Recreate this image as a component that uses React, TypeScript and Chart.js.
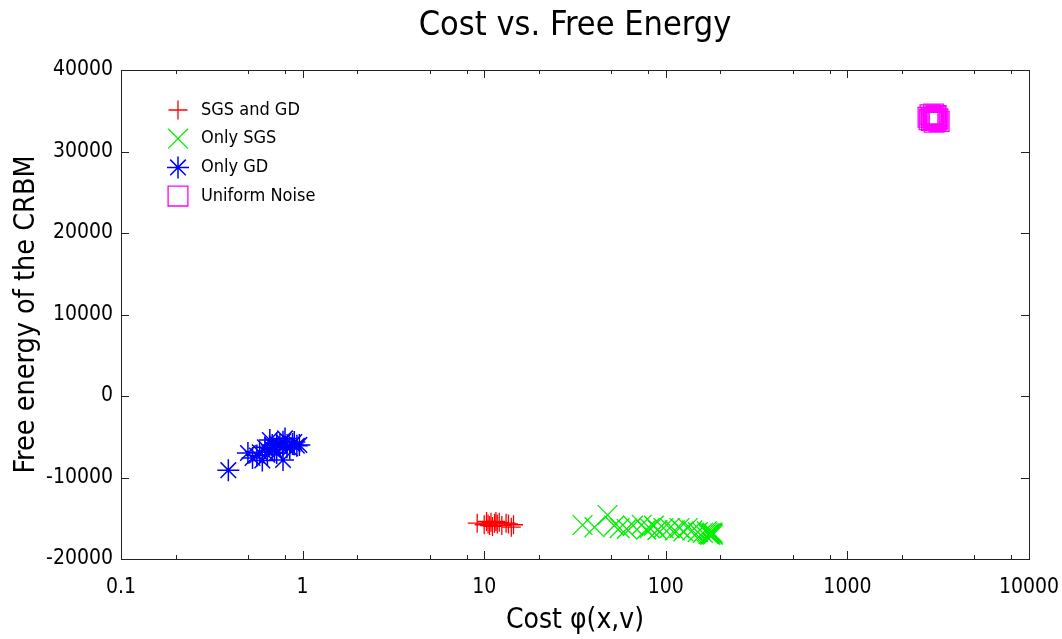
import React, { useEffect, useRef } from 'react';
import { Chart, registerables } from 'chart.js';
import { drawPoint } from 'chart.js/helpers';

Chart.register(...registerables);

const FONT = "'DejaVu Sans Condensed', 'DejaVu Sans', sans-serif";

// ---- texts ----
const chartTitle = 'Cost vs. Free Energy';
const xAxisTitle = 'Cost φ(x,v)';
const yAxisTitle = 'Free energy of the CRBM';

// ---- axis ticks ----
const xMajorTicks = [0.1, 1, 10, 100, 1000, 10000];
const xMinorMultipliers = [2, 5, 8];
const yTicks = [-20000, -10000, 0, 10000, 20000, 30000, 40000];

// ---- series ----
const seriesNames = ['SGS and GD', 'Only SGS', 'Only GD', 'Uniform Noise'];

const sgsGdCost = [9.15, 10.0, 10.3, 10.5, 10.7, 10.9, 11.1, 11.4, 11.6, 11.8, 12.1, 12.5, 13.2, 13.6, 14.1, 14.5];
const sgsGdEnergy = [-15600, -15800, -15400, -15700, -15900, -15500, -16000, -15600, -15400, -15700, -15500, -15900, -15600, -15700, -16100, -15800];

const onlySgsCost = [34.8, 40.5, 47.8, 52, 55.7, 60.9, 66, 73.7, 78, 81.5, 86, 90, 97, 105, 112, 119, 125, 132, 140, 150, 160, 168, 170, 172, 174, 175, 176, 178, 180, 181, 182];
const onlySgsEnergy = [-15830, -16100, -14600, -15900, -16200, -16300, -15900, -15800, -16400, -16200, -15900, -16450, -16200, -16200, -16500, -16200, -16600, -16200, -16500, -16700, -16800, -16600, -16750, -16950, -16850, -16900, -17050, -16800, -16950, -16750, -17000];

const onlyGdCost = [0.39, 0.5, 0.53, 0.56, 0.6, 0.58, 0.62, 0.64, 0.66, 0.68, 0.7, 0.72, 0.75, 0.78, 0.78, 0.8, 0.82, 0.85, 0.88, 0.9, 0.93, 0.96, 0.72, 0.68];
const onlyGdEnergy = [-9100, -7000, -7600, -7300, -7900, -6900, -6300, -7200, -5400, -6000, -6600, -5800, -6000, -7850, -5600, -5200, -6300, -6400, -5900, -5650, -6100, -6000, -7000, -6500];

const noiseCost = [2780, 2850, 2900, 2950, 3000, 3050, 3100, 3150, 3200, 2820, 2980, 3080, 2900, 3000, 3050];
const noiseEnergy = [34200, 34500, 33800, 34100, 33600, 34300, 33900, 34000, 33700, 33900, 34600, 34400, 34200, 34000, 33800];

const toPoints = (xs: number[], ys: number[]) => xs.map((x, i) => ({ x, y: ys[i] }));

const titlePlugin = {
  id: 'plotTitle',
  afterDraw(chart: any) {
    const { ctx, chartArea } = chart;
    ctx.save();
    ctx.fillStyle = '#000';
    ctx.font = `34px ${FONT}`;
    ctx.textAlign = 'center';
    ctx.textBaseline = 'alphabetic';
    ctx.fillText(chartTitle, (chartArea.left + chartArea.right) / 2, 35);
    ctx.restore();
  },
};

const framePlugin = {
  id: 'frameTicks',
  afterDraw(chart: any) {
    const { ctx, chartArea } = chart;
    const { left, right, top, bottom } = chartArea;
    const xs = chart.scales.x;
    const ys = chart.scales.y;
    ctx.save();
    ctx.strokeStyle = '#222';
    ctx.lineWidth = 1;
    ctx.strokeRect(Math.round(left) + 0.5, Math.round(top) + 0.5, Math.round(right - left), Math.round(bottom - top));
    ctx.beginPath();
    xs.ticks.forEach((t: any) => {
      const px = Math.round(xs.getPixelForValue(t.value)) + 0.5;
      const len = t.major ? 8 : 4;
      ctx.moveTo(px, bottom);
      ctx.lineTo(px, bottom - len);
      ctx.moveTo(px, top);
      ctx.lineTo(px, top + len);
    });
    ys.ticks.forEach((t: any) => {
      const py = Math.round(ys.getPixelForValue(t.value)) + 0.5;
      ctx.moveTo(left, py);
      ctx.lineTo(left + 8, py);
      ctx.moveTo(right, py);
      ctx.lineTo(right - 8, py);
    });
    ctx.stroke();
    ctx.restore();
  },
};

const legendPlugin = {
  id: 'innerLegend',
  afterDraw(chart: any) {
    const { ctx, chartArea } = chart;
    ctx.save();
    chart.data.datasets.forEach((ds: any, i: number) => {
      const y = chartArea.top + 40 + i * 28.7;
      const x = chartArea.left + 57;
      ctx.strokeStyle = ds.borderColor;
      ctx.fillStyle = 'rgba(0,0,0,0)';
      ctx.lineWidth = ds.pointBorderWidth;
      drawPoint(ctx, { pointStyle: ds.pointStyle, rotation: 0, radius: ds.pointRadius, borderWidth: ds.pointBorderWidth }, x, y);
      ctx.fillStyle = '#000';
      ctx.font = `18px ${FONT}`;
      ctx.textBaseline = 'middle';
      ctx.textAlign = 'left';
      ctx.fillText(ds.label, chartArea.left + 80, y);
    });
    ctx.restore();
  },
};

export default function App() {
  const ref = useRef<HTMLCanvasElement | null>(null);

  useEffect(() => {
    document.body.style.margin = '0';
    if (!ref.current) return;
    const chart = new Chart(ref.current, {
      type: 'scatter',
      data: {
        datasets: [
          {
            label: seriesNames[0],
            data: toPoints(sgsGdCost, sgsGdEnergy),
            pointStyle: 'cross',
            pointRadius: 9.5,
            pointBorderWidth: 1.3,
            borderColor: '#ff0000',
            backgroundColor: 'rgba(0,0,0,0)',
          },
          {
            label: seriesNames[1],
            data: toPoints(onlySgsCost, onlySgsEnergy),
            pointStyle: 'crossRot',
            pointRadius: 14,
            pointBorderWidth: 1.3,
            borderColor: '#00ee00',
            backgroundColor: 'rgba(0,0,0,0)',
          },
          {
            label: seriesNames[2],
            data: toPoints(onlyGdCost, onlyGdEnergy),
            pointStyle: 'star',
            pointRadius: 11,
            pointBorderWidth: 1.5,
            borderColor: '#0000ff',
            backgroundColor: 'rgba(0,0,0,0)',
          },
          {
            label: seriesNames[3],
            data: toPoints(noiseCost, noiseEnergy),
            pointStyle: 'rect',
            pointRadius: 14,
            pointBorderWidth: 1.3,
            borderColor: '#ff00ff',
            backgroundColor: 'rgba(0,0,0,0)',
          },
        ],
      },
      options: {
        animation: false,
        responsive: false,
        events: [],
        layout: { padding: { left: 0, right: 33, top: 70, bottom: 0 } },
        plugins: {
          legend: { display: false },
          tooltip: { enabled: false },
          title: { display: false },
        },
        scales: {
          x: {
            type: 'logarithmic',
            min: 0.1,
            max: 10000,
            grid: { display: false, drawTicks: false },
            border: { display: false },
            afterBuildTicks: (s: any) => {
              const ticks: any[] = [];
              xMajorTicks.forEach((v) => {
                ticks.push({ value: v, major: true });
                if (v < 10000) xMinorMultipliers.forEach((m) => ticks.push({ value: v * m, major: false }));
              });
              s.ticks = ticks;
            },
            afterFit: (s: any) => {
              s.height = 80;
              s.paddingLeft = 0;
              s.paddingRight = 0;
            },
            ticks: {
              autoSkip: false,
              maxRotation: 0,
              padding: 16,
              color: '#000',
              font: { family: FONT, size: 21 },
              callback: (v: any, i: number, ticks: any[]) => (ticks[i] && ticks[i].major ? String(v) : ''),
            },
            title: {
              display: true,
              text: xAxisTitle,
              color: '#000',
              font: { family: FONT, size: 28 },
              padding: { top: 0, bottom: 1 },
            },
          },
          y: {
            type: 'linear',
            min: -20000,
            max: 40000,
            grid: { display: false, drawTicks: false },
            border: { display: false },
            afterBuildTicks: (s: any) => {
              s.ticks = yTicks.map((v) => ({ value: v }));
            },
            afterFit: (s: any) => {
              s.width = 121;
              s.paddingTop = 0;
              s.paddingBottom = 0;
            },
            ticks: {
              autoSkip: false,
              padding: 8,
              color: '#000',
              font: { family: FONT, size: 21 },
              callback: (v: any) => String(v),
            },
            title: {
              display: true,
              text: yAxisTitle,
              color: '#000',
              font: { family: FONT, size: 28.5 },
              padding: { top: 9, bottom: 0 },
            },
          },
        },
      },
      plugins: [framePlugin, legendPlugin, titlePlugin],
    } as any);
    return () => chart.destroy();
  }, []);

  return (
    <div style={{ width: 1062, height: 639 }}>
      <canvas ref={ref} width={1062} height={639} />
    </div>
  );
}
